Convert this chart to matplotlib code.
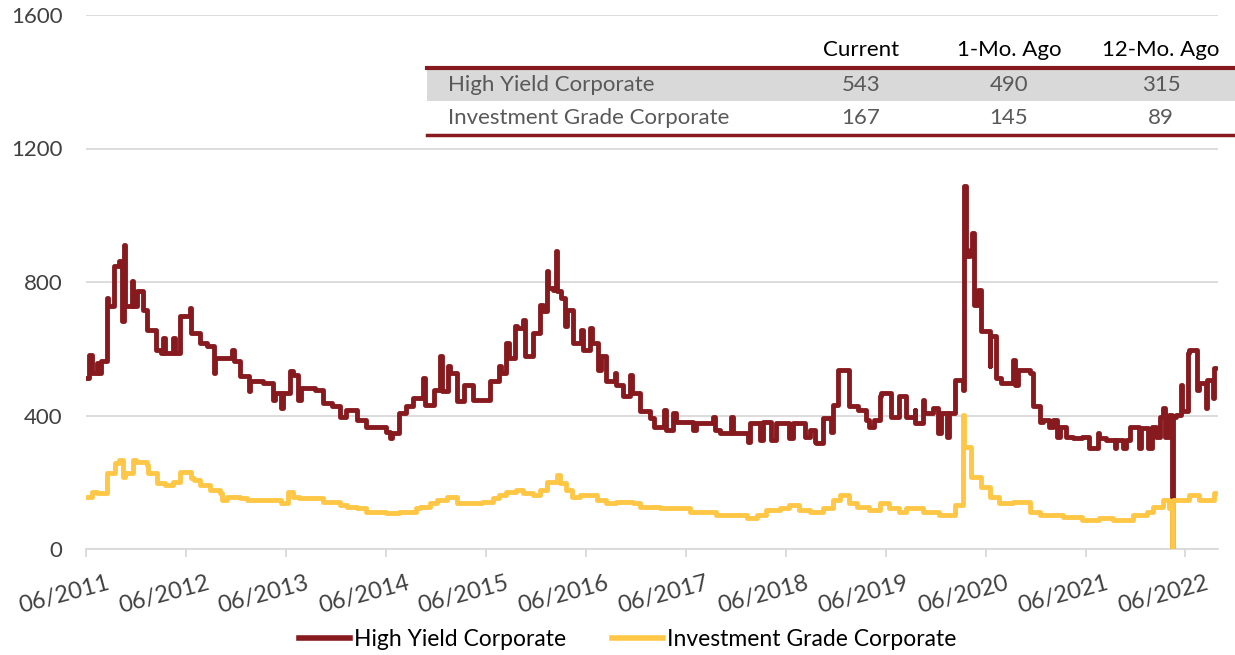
import matplotlib
matplotlib.use("Agg")
import matplotlib.pyplot as plt
import matplotlib.dates as mdates
import matplotlib.transforms as mtrans
import pandas as pd
from matplotlib.patches import Rectangle
from matplotlib.lines import Line2D

plt.rcParams['font.family'] = ['Lato', 'DejaVu Sans']

# 高收益债利差 (bps)
hy_dates = [
    "2011-06-01", "2011-06-12", "2011-06-22", "2011-07-10", "2011-07-20", "2011-07-25",
    "2011-08-15", "2011-08-22", "2011-09-10", "2011-09-28", "2011-10-12", "2011-10-18",
    "2011-10-22", "2011-11-15", "2011-11-20", "2011-12-04", "2011-12-25", "2012-01-10",
    "2012-02-10", "2012-03-01", "2012-03-10", "2012-03-15", "2012-04-15", "2012-04-20",
    "2012-05-10", "2012-06-15", "2012-06-20", "2012-07-20", "2012-08-15", "2012-09-10",
    "2012-09-15", "2012-11-15", "2012-11-22", "2012-12-15", "2013-01-15", "2013-01-22",
    "2013-03-10", "2013-04-15", "2013-04-20", "2013-05-15", "2013-05-20", "2013-06-15",
    "2013-06-25", "2013-07-15", "2013-07-25", "2013-09-15", "2013-10-15", "2013-11-15",
    "2013-12-15", "2014-01-05", "2014-02-15", "2014-03-20", "2014-06-01", "2014-06-15",
    "2014-06-25", "2014-07-20", "2014-08-15", "2014-09-08", "2014-10-15", "2014-10-22",
    "2014-11-22", "2014-12-15", "2014-12-22", "2015-01-15", "2015-01-22", "2015-02-15",
    "2015-03-15", "2015-04-15", "2015-06-15", "2015-07-20", "2015-07-25", "2015-08-15",
    "2015-08-25", "2015-09-15", "2015-09-22", "2015-10-15", "2015-10-22", "2015-11-20",
    "2015-12-15", "2015-12-28", "2016-01-10", "2016-01-15", "2016-02-03", "2016-02-12",
    "2016-02-18", "2016-03-01", "2016-03-15", "2016-03-25", "2016-04-15", "2016-05-15",
    "2016-05-20", "2016-06-15", "2016-06-25", "2016-07-15", "2016-07-25", "2016-08-15",
    "2016-09-15", "2016-09-20", "2016-10-15", "2016-11-10", "2016-11-15", "2016-12-15",
    "2017-01-20", "2017-02-03", "2017-03-15", "2017-03-20", "2017-04-15", "2017-04-28",
    "2017-06-28", "2017-07-10", "2017-09-10", "2017-09-15", "2017-10-03", "2017-11-15",
    "2017-11-20", "2018-01-15", "2018-01-20", "2018-02-28", "2018-03-10", "2018-04-10",
    "2018-04-28", "2018-06-15", "2018-06-28", "2018-08-10", "2018-08-28", "2018-09-15",
    "2018-09-20", "2018-10-15", "2018-11-15", "2018-11-20", "2018-12-10", "2019-01-20",
    "2019-02-20", "2019-03-20", "2019-04-03", "2019-04-20", "2019-05-10", "2019-05-15",
    "2019-06-20", "2019-07-20", "2019-08-15", "2019-09-15", "2019-09-18", "2019-10-15",
    "2019-10-20", "2019-11-20", "2019-12-10", "2019-12-20", "2020-01-10", "2020-01-20",
    "2020-02-10", "2020-03-10", "2020-03-15", "2020-03-20", "2020-04-03", "2020-04-12",
    "2020-04-18", "2020-05-03", "2020-05-15", "2020-06-15", "2020-06-18", "2020-07-10",
    "2020-07-28", "2020-09-10", "2020-09-15", "2020-09-28", "2020-11-10", "2020-11-20",
    "2020-12-15", "2020-12-28", "2021-01-20", "2021-02-03", "2021-02-15", "2021-02-28",
    "2021-03-20", "2021-04-15", "2021-05-20", "2021-06-15", "2021-07-15", "2021-07-20",
    "2021-08-15", "2021-09-15", "2021-09-20", "2021-10-15", "2021-10-28", "2021-11-10",
    "2021-12-15", "2021-12-20", "2022-01-15", "2022-01-28", "2022-02-15", "2022-02-28",
    "2022-03-10", "2022-03-20", "2022-04-03", "2022-04-12", "2022-04-16", "2022-04-28",
    "2022-05-15", "2022-05-20", "2022-06-10", "2022-06-15", "2022-07-15", "2022-07-20",
    "2022-08-15", "2022-08-20", "2022-09-10", "2022-09-15", "2022-09-20",
]
hy_values = [
    512, 580, 527, 557, 527, 562,
    752, 727, 847, 862, 682, 912,
    727, 802, 727, 772, 717, 657,
    597, 587, 632, 587, 632, 587,
    697, 722, 647, 617, 607, 527,
    572, 597, 562, 517, 472, 502,
    497, 447, 467, 422, 467, 532,
    522, 447, 482, 477, 437, 427,
    397, 417, 387, 367, 352, 332,
    347, 407, 427, 452, 512, 432,
    477, 577, 472, 547, 527, 442,
    492, 447, 502, 547, 527, 617,
    572, 667, 662, 687, 577, 647,
    732, 712, 832, 782, 777, 892,
    772, 752, 667, 717, 617, 657,
    597, 662, 617, 537, 577, 502,
    527, 492, 457, 522, 467, 412,
    392, 367, 417, 357, 407, 382,
    357, 377, 397, 357, 347, 397,
    347, 322, 377, 327, 382, 327,
    377, 332, 377, 337, 357, 322,
    317, 392, 352, 432, 537, 427,
    417, 387, 367, 387, 457, 467,
    397, 457, 397, 417, 377, 447,
    407, 422, 347, 407, 337, 407,
    507, 477, 1087, 877, 897, 947,
    732, 777, 652, 547, 637, 512,
    497, 567, 492, 537, 527, 427,
    382, 387, 367, 387, 337, 367,
    337, 332, 337, 302, 347, 332,
    327, 302, 327, 302, 327, 367,
    302, 362, 302, 367, 337, 397,
    422, 337, 402, 0, 397, 402,
    492, 412, 587, 597, 477, 497,
    422, 507, 452, 543, 543,
]

# 投资级债利差 (bps)
ig_dates = [
    "2011-06-01", "2011-06-22", "2011-07-10", "2011-08-15", "2011-09-15", "2011-09-28",
    "2011-10-15", "2011-10-20", "2011-11-20", "2011-12-01", "2012-01-10", "2012-01-15",
    "2012-02-15", "2012-03-15", "2012-04-15", "2012-05-10", "2012-06-20", "2012-07-01",
    "2012-07-20", "2012-08-28", "2012-10-03", "2012-10-10", "2012-10-28", "2012-12-15",
    "2013-01-10", "2013-05-15", "2013-06-10", "2013-06-28", "2013-07-20", "2013-10-15",
    "2013-12-15", "2014-01-10", "2014-02-15", "2014-03-20", "2014-06-01", "2014-07-20",
    "2014-09-20", "2014-10-03", "2014-11-10", "2014-12-03", "2015-01-10", "2015-02-15",
    "2015-05-20", "2015-06-28", "2015-07-20", "2015-08-15", "2015-09-20", "2015-10-15",
    "2015-11-20", "2015-12-15", "2016-01-10", "2016-02-15", "2016-02-28", "2016-03-20",
    "2016-04-10", "2016-05-10", "2016-07-10", "2016-08-15", "2016-09-20", "2016-11-20",
    "2016-12-15", "2017-02-28", "2017-06-15", "2017-09-20", "2018-01-10", "2018-02-15",
    "2018-03-20", "2018-05-10", "2018-06-15", "2018-07-20", "2018-08-28", "2018-10-15",
    "2018-11-20", "2018-12-15", "2019-01-20", "2019-02-15", "2019-04-03", "2019-05-10",
    "2019-06-15", "2019-07-20", "2019-08-15", "2019-10-15", "2019-12-15", "2020-02-10",
    "2020-03-10", "2020-03-15", "2020-04-10", "2020-05-15", "2020-06-15", "2020-07-20",
    "2020-09-10", "2020-11-10", "2020-12-15", "2021-03-10", "2021-05-20", "2021-07-20",
    "2021-09-10", "2021-11-20", "2022-01-10", "2022-02-03", "2022-03-10", "2022-04-03",
    "2022-04-12", "2022-04-16", "2022-06-15", "2022-07-20", "2022-09-15", "2022-09-20",
]
ig_values = [
    157, 172, 167, 227, 257, 267,
    217, 227, 267, 262, 252, 227,
    197, 192, 202, 232, 212, 207,
    192, 177, 167, 147, 157, 152,
    147, 137, 172, 157, 152, 142,
    132, 127, 122, 112, 107, 112,
    122, 127, 137, 147, 157, 137,
    142, 152, 162, 172, 177, 167,
    162, 177, 202, 222, 197, 177,
    157, 162, 147, 137, 142, 137,
    127, 122, 112, 102, 92, 102,
    117, 122, 132, 117, 112, 122,
    147, 162, 137, 127, 117, 137,
    122, 112, 122, 112, 102, 132,
    402, 307, 217, 187, 157, 137,
    142, 112, 102, 97, 87, 92,
    87, 102, 112, 127, 147, 122,
    0, 147, 162, 147, 167, 167,
]

# 右上角表格
table_rows = ["High Yield Corporate", "Investment Grade Corporate"]
table_cols = ["Current", "1-Mo. Ago", "12-Mo. Ago"]
table_vals = [[543, 490, 315], [167, 145, 89]]

hy_color = '#861A1E'
ig_color = '#FFC745'
grid_color = '#D9D9D9'
text_color = '#404040'

W, H = 1235, 655
fig = plt.figure(figsize=(W / 100, H / 100), dpi=100)
ax = fig.add_axes([86 / W, 1 - 549 / H, (1218 - 86) / W, (549 - 15) / H])

hy = pd.Series(hy_values, index=pd.to_datetime(hy_dates))
ig = pd.Series(ig_values, index=pd.to_datetime(ig_dates))

ax.plot(hy.index, hy.values, drawstyle='steps-post', color=hy_color, lw=3.5,
        solid_joinstyle='round', solid_capstyle='round', zorder=3)
ax.plot(ig.index, ig.values, drawstyle='steps-post', color=ig_color, lw=3.5,
        solid_joinstyle='round', solid_capstyle='round', zorder=4)

ax.set_ylim(0, 1600)
ax.set_yticks([0, 400, 800, 1200, 1600])
ax.set_xlim(pd.Timestamp("2011-06-01"), pd.Timestamp("2022-09-28"))
ax.xaxis.set_major_locator(mdates.MonthLocator(bymonth=6, bymonthday=1))
ax.xaxis.set_major_formatter(mdates.DateFormatter('%m/%Y'))

ax.yaxis.grid(True, color=grid_color, lw=1.3)
ax.set_axisbelow(True)
for s in ['top', 'right', 'left']:
    ax.spines[s].set_visible(False)
ax.spines['bottom'].set_color(grid_color)
ax.spines['bottom'].set_linewidth(1.3)
ax.tick_params(axis='y', length=0, pad=17, labelsize=16, labelcolor=text_color)
ax.tick_params(axis='x', length=6, width=1.3, color=grid_color, pad=11,
               labelsize=17, labelcolor=text_color)

# 日期标签倾斜，略向右偏移
offset = mtrans.ScaledTranslation(20 / 100, 0, fig.dpi_scale_trans)
for lab in ax.get_xticklabels():
    lab.set_rotation(15)
    lab.set_ha('right')
    lab.set_va('top')
    lab.set_rotation_mode('anchor')
    lab.set_transform(lab.get_transform() + offset)


def fx(px):
    return px / W


def fy(py):
    return 1 - py / H


# 表格
fig.patches.append(Rectangle((fx(427), fy(101)), fx(1235) - fx(427), fy(70) - fy(101),
                             transform=fig.transFigure, facecolor='#D9D9D9',
                             edgecolor='none', zorder=5))
fig.add_artist(Line2D([fx(427), 1], [fy(68), fy(68)], color=hy_color, lw=3.0, zorder=6))
fig.add_artist(Line2D([fx(427), 1], [fy(135), fy(135)], color=hy_color, lw=2.5, zorder=6))

col_x = [861, 1009, 1161]
for cx, name in zip(col_x, table_cols):
    fig.text(fx(cx), fy(50), name, ha='center', va='center', fontsize=16, color='black')
row_y = [85, 118]
for ry, rname, vals in zip(row_y, table_rows, table_vals):
    fig.text(fx(448), fy(ry), rname, ha='left', va='center', fontsize=16, color='#595959',
             zorder=7)
    for cx, v in zip(col_x, vals):
        fig.text(fx(cx), fy(ry), str(v), ha='center', va='center', fontsize=16,
                 color='#595959', zorder=7)

handles = [Line2D([], [], color=hy_color, lw=4), Line2D([], [], color=ig_color, lw=4)]
fig.legend(handles, ["High Yield Corporate", "Investment Grade Corporate"],
           loc='center', bbox_to_anchor=(fx(628), fy(640)), ncol=2, frameon=False,
           fontsize=16.5, handlelength=2.2, handletextpad=0.2, columnspacing=2.0,
           labelcolor='black')

fig.savefig('out.png', dpi=100)
